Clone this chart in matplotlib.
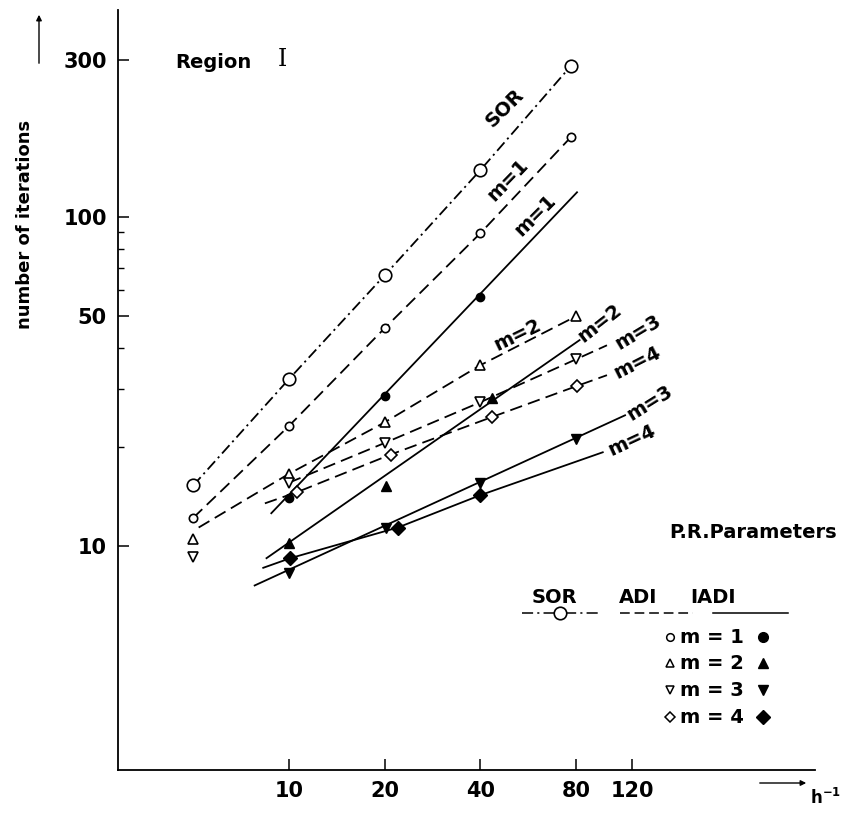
import matplotlib.pyplot as plt
from matplotlib.lines import Line2D

plt.rcParams['font.family'] = ['DejaVu Sans']
plt.rcParams['font.weight'] = 'bold'
plt.rcParams['lines.scale_dashes'] = False

### DATA (h^-1 , number of iterations)

# SOR
h_sor = [5, 10, 20, 40, 77]
it_sor = [15.3, 32.2, 66.6, 139, 288]

# ADI
h_adi1 = [5, 10, 20, 40, 77]
it_adi1 = [12.2, 23.2, 46, 89.4, 175]

h_adi2 = [5, 10, 20, 40, 80]
it_adi2 = [10.5, 16.6, 23.8, 35.5, 50]
line_h_adi2 = [5.2, 10, 20, 40, 80]
line_it_adi2 = [11.4, 16.6, 23.8, 35.5, 50]

h_adi3 = [5, 10, 20, 40, 80]
it_adi3 = [9.3, 15.6, 20.6, 27.4, 37]
line_h_adi3 = [10, 20, 40, 80, 100]
line_it_adi3 = [15.6, 20.6, 27.4, 37, 40.8]

h_adi4 = [10.6, 20.9, 43.5, 80.5]
it_adi4 = [14.6, 19.0, 24.7, 30.7]
line_h_adi4 = [8.4, 10.6, 20.9, 43.5, 80.5, 100]
line_it_adi4 = [13.5, 14.6, 19.0, 24.7, 30.7, 33.1]

# IADI
h_iadi1 = [10, 20, 40]
it_iadi1 = [14.0, 28.6, 57.1]
line_h_iadi1 = [8.8, 80.5]
line_it_iadi1 = [12.6, 119]

h_iadi2 = [10, 20.2, 43.5]
it_iadi2 = [10.2, 15.2, 28.2]
line_h_iadi2 = [8.5, 82]
line_it_iadi2 = [9.2, 42.3]

h_iadi3 = [10, 20.2, 40, 80]
it_iadi3 = [8.3, 11.4, 15.6, 21.2]
line_h_iadi3 = [7.8, 114]
line_it_iadi3 = [7.6, 25.0]

h_iadi4 = [10.1, 22, 40]
it_iadi4 = [9.2, 11.4, 14.3]
line_h_iadi4 = [8.3, 10.1, 22, 40, 97]
line_it_iadi4 = [8.6, 9.2, 11.4, 14.3, 19.3]

x_ticks = [10, 20, 40, 80, 120]
y_ticks = [10, 50, 100, 300]
y_minor = [20, 30, 40, 60, 70, 80, 90]

# curve labels: text, h, iterations, angle
curve_labels = [
    ("SOR", 47.7, 214, 45),
    ("m=1", 48.9, 129.5, 46),
    ("m=1", 59.4, 101, 45),
    ("m=2", 52.5, 43.7, 26),
    ("m=2", 95, 47.6, 38),
    ("m=3", 125, 44.7, 31),
    ("m=4", 125, 36.2, 27),
    ("m=3", 136, 27.2, 32),
    ("m=4", 120, 21.0, 25),
]

legend_m = ["m = 1", "m = 2", "m = 3", "m = 4"]
legend_open = ['o', '^', 'v', 'D']

### PLOT

W, H = 842, 813
fig = plt.figure(figsize=(W / 100, H / 100), dpi=100)
# axes box in pixels: left 118, right 815, top 10, bottom 770
ax = fig.add_axes([118 / W, 1 - 770 / H, 697 / W, 760 / H])
ax.set_xscale('log')
ax.set_yscale('log')
ax.set_xlim(2.9, 451)
ax.set_ylim(2.09, 426)

lw = 1.3
dash = (0, (9, 4.5))
dashdot = (0, (8, 3, 1.5, 3))
k = 'black'

# lines
ax.plot(h_sor, it_sor, color=k, lw=lw, ls=dashdot)
ax.plot(h_adi1, it_adi1, color=k, lw=lw, ls=dash)
ax.plot(line_h_adi2, line_it_adi2, color=k, lw=lw, ls=dash)
ax.plot(line_h_adi3, line_it_adi3, color=k, lw=lw, ls=dash)
ax.plot(line_h_adi4, line_it_adi4, color=k, lw=lw, ls=dash)
ax.plot(line_h_iadi1, line_it_iadi1, color=k, lw=lw)
ax.plot(line_h_iadi2, line_it_iadi2, color=k, lw=lw)
ax.plot(line_h_iadi3, line_it_iadi3, color=k, lw=lw)
ax.plot(line_h_iadi4, line_it_iadi4, color=k, lw=lw)

# markers
op = dict(ls='none', mfc='white', mec=k, mew=1.2, zorder=4)
fl = dict(ls='none', mfc=k, mec=k, zorder=4)
ax.plot(h_sor, it_sor, 'o', ms=9, **op)
ax.plot(h_adi1, it_adi1, 'o', ms=6, **op)
ax.plot(h_adi2, it_adi2, '^', ms=6.5, **op)
ax.plot(h_adi3, it_adi3, 'v', ms=6.5, **op)
ax.plot(h_adi4, it_adi4, 'D', ms=6.5, **op)
ax.plot(h_iadi1, it_iadi1, 'o', ms=6, **fl)
ax.plot(h_iadi2, it_iadi2, '^', ms=7, **fl)
ax.plot(h_iadi3, it_iadi3, 'v', ms=7, **fl)
ax.plot(h_iadi4, it_iadi4, 'D', ms=7, **fl)

for txt, hx, iy, ang in curve_labels:
    ax.text(hx, iy, txt, rotation=ang, rotation_mode='anchor', ha='center',
            va='center', fontsize=14, fontweight='bold')

# axes
for s in ['top', 'right']:
    ax.spines[s].set_visible(False)
for s in ['left', 'bottom']:
    ax.spines[s].set_linewidth(1.3)

ax.set_xticks(x_ticks)
ax.set_xticklabels([str(v) for v in x_ticks])
ax.xaxis.set_minor_locator(plt.NullLocator())
ax.set_yticks(y_ticks)
ax.set_yticklabels([str(v) for v in y_ticks])
ax.set_yticks(y_minor, minor=True)
ax.yaxis.set_minor_formatter(plt.NullFormatter())
ax.tick_params(axis='both', which='major', direction='in', length=8, width=1.1,
               labelsize=15, pad=8)
ax.tick_params(axis='y', which='minor', direction='in', length=4.5, width=1.0)
for lab in ax.get_xticklabels() + ax.get_yticklabels():
    lab.set_fontweight('bold')

fig.text(25 / W, 1 - 224 / H, "number of iterations", rotation=90,
         ha='center', va='center', fontsize=13, fontweight='bold')
fig.text(213 / W, 1 - 62 / H, "Region", ha='center', va='center',
         fontsize=14, fontweight='bold')
fig.text(282 / W, 1 - 60 / H, "I", ha='center', va='center',
         fontsize=17, family='DejaVu Serif', fontweight='normal')

# axis arrows
ax.annotate('', xy=(39 / W, 1 - 12 / H), xytext=(39 / W, 1 - 66 / H),
            xycoords='figure fraction', textcoords='figure fraction',
            arrowprops=dict(arrowstyle='-|>', lw=1.0, color=k, mutation_scale=8))
ax.annotate('', xy=(809 / W, 1 - 783 / H), xytext=(757 / W, 1 - 783 / H),
            xycoords='figure fraction', textcoords='figure fraction',
            arrowprops=dict(arrowstyle='-|>', lw=1.0, color=k, mutation_scale=8))
fig.text(810 / W, 1 - 798 / H, r"$\mathbf{h^{-1}}$", ha='left',
         va='center', fontsize=12)

# legend block (axes fraction)
def ax_x(px):
    return (px - 118) / 697


def ax_y(py):
    return (770 - py) / 760


ax.text(ax_x(837), ax_y(532), "P.R.Parameters", transform=ax.transAxes,
        ha='right', va='center', fontsize=14, fontweight='bold')
for txt, xc in [("SOR", 554), ("ADI", 638), ("IADI", 713)]:
    ax.text(ax_x(xc), ax_y(597), txt, transform=ax.transAxes, ha='center',
            va='center', fontsize=14, fontweight='bold')
ly = ax_y(613)
ax.add_line(Line2D([ax_x(522), ax_x(598)], [ly, ly], transform=ax.transAxes,
                   color=k, lw=1.1, ls=dashdot))
ax.add_line(Line2D([ax_x(560)], [ly], transform=ax.transAxes, marker='o',
                   ms=9, mfc='white', mec=k, mew=1.2))
ax.add_line(Line2D([ax_x(620), ax_x(693)], [ly, ly], transform=ax.transAxes,
                   color=k, lw=1.1, ls=(0, (7, 3.5))))
ax.add_line(Line2D([ax_x(713), ax_x(788)], [ly, ly], transform=ax.transAxes,
                   color=k, lw=1.1))

rows_py = [637, 663, 690, 717]
for lab, mk, py in zip(legend_m, legend_open, rows_py):
    yy = ax_y(py)
    ax.add_line(Line2D([ax_x(670)], [yy], transform=ax.transAxes, marker=mk,
                       ms=5.5, mfc='white', mec=k, mew=1.1))
    ax.text(ax_x(680), yy, lab, transform=ax.transAxes, ha='left', va='center',
            fontsize=14, fontweight='bold')
    ax.add_line(Line2D([ax_x(763)], [yy], transform=ax.transAxes, marker=mk,
                       ms=7, mfc=k, mec=k))

fig.savefig('out.png', dpi=100)
